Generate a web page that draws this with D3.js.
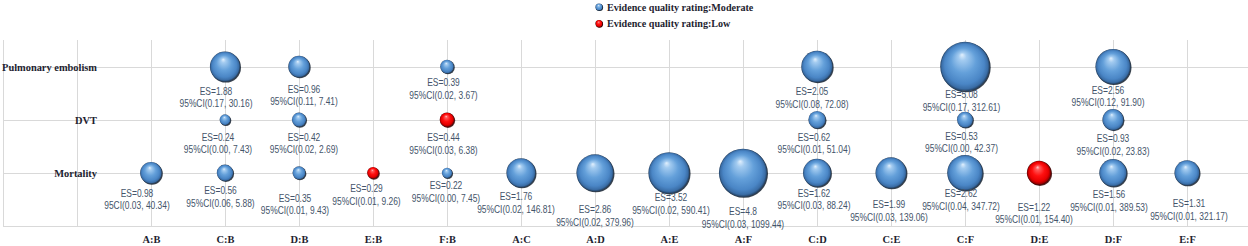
<!DOCTYPE html>
<html>
<head>
<meta charset="utf-8">
<script src="https://cdn.jsdelivr.net/npm/d3@7"></script>
<style>
  body { margin: 0; background: #fff; }
  svg { display: block; }
</style>
</head>
<body>
<div id="chart"></div>
<script>
// comparisons along the x axis, outcomes up the y axis (bottom -> top)
const categories = ["A:B", "C:B", "D:B", "E:B", "F:B", "A:C", "A:D", "A:E", "A:F", "C:D", "C:E", "C:F", "D:E", "D:F", "E:F"];
const outcomes = ["Mortality", "DVT", "Pulmonary embolism"];

// Pulmonary embolism
const peComparisons = ["C:B", "D:B", "F:B", "C:D", "C:F", "D:F"];
const peES   = [1.88, 0.96, 0.39, 2.05, 5.08, 2.56];
const peLow  = [0.17, 0.11, 0.02, 0.08, 0.17, 0.12];
const peHigh = [30.16, 7.41, 3.67, 72.08, 312.61, 91.90];
const peRating = ["Moderate", "Moderate", "Moderate", "Moderate", "Moderate", "Moderate"];

// DVT
const dvtComparisons = ["C:B", "D:B", "F:B", "C:D", "C:F", "D:F"];
const dvtES   = [0.24, 0.42, 0.44, 0.62, 0.53, 0.93];
const dvtLow  = [0.00, 0.02, 0.03, 0.01, 0.00, 0.02];
const dvtHigh = [7.43, 2.69, 6.38, 51.04, 42.37, 23.83];
const dvtRating = ["Moderate", "Moderate", "Low", "Moderate", "Moderate", "Moderate"];

// Mortality
const morComparisons = ["A:B", "C:B", "D:B", "E:B", "F:B", "A:C", "A:D", "A:E", "A:F", "C:D", "C:E", "C:F", "D:E", "D:F", "E:F"];
const morES   = [0.98, 0.56, 0.35, 0.29, 0.22, 1.76, 2.86, 3.52, 4.8, 1.62, 1.99, 2.62, 1.22, 1.56, 1.31];
const morLow  = [0.03, 0.06, 0.01, 0.01, 0.00, 0.02, 0.02, 0.02, 0.03, 0.03, 0.03, 0.04, 0.01, 0.01, 0.01];
const morHigh = [40.34, 5.88, 9.43, 9.26, 7.45, 146.81, 379.96, 590.41, 1099.44, 88.24, 139.06, 347.72, 154.40, 389.53, 321.17];
const morRating = ["Moderate", "Moderate", "Moderate", "Low", "Moderate", "Moderate", "Moderate", "Moderate", "Moderate", "Moderate", "Moderate", "Moderate", "Low", "Moderate", "Moderate"];

const legendItems = ["Moderate", "Low"];

// hand placed data labels (dx, dy of first line from bubble centre), like the original
const peNudge  = [[-9, 24.7], [5, 22.3], [-3.5, 16], [-5, 25], [-3.5, 28], [-5, 23.3]];
const dvtNudge = [[-7, 17.2], [5, 17.2], [-3.5, 17.8], [-3, 17.2], [-3.5, 16.2], [0, 18.8]];
const morNudge = [[-14, 20.3], [-4.5, 18], [-4, 25.3], [-6.5, 15.7], [-1, 12.7], [-5, 24], [0, 37], [2, 24.5],
                  [0, 38.7], [-3, 20.3], [-2, 32], [-4, 21], [-5, 34.3], [-4, 22], [2, 31]];

function rows(outcome, comps, es, lo, hi, rating, nudge) {
  return comps.map((c, i) => ({
    outcome, comp: c, es: es[i], lo: lo[i], hi: hi[i], rating: rating[i], nudge: nudge[i]
  }));
}
const data = [].concat(
  rows("Pulmonary embolism", peComparisons, peES, peLow, peHigh, peRating, peNudge),
  rows("DVT", dvtComparisons, dvtES, dvtLow, dvtHigh, dvtRating, dvtNudge),
  rows("Mortality", morComparisons, morES, morLow, morHigh, morRating, morNudge)
);

const width = 1248, height = 246;
const svg = d3.select("#chart").append("svg")
  .attr("width", width)
  .attr("height", height);

const step = 74;
const x = d3.scaleLinear().domain([0, 17]).range([3, 3 + step * 17]);
const y = d3.scaleLinear().domain([0, 3.5]).range([226, 40]);
const r = d3.scaleSqrt().domain([0, 5.08]).range([0, 24.8]);
const xPos = c => x(categories.indexOf(c) + 2);
const yPos = o => y(outcomes.indexOf(o) + 1);

// sphere gradients
const defs = svg.append("defs");
function sphere(id, stops) {
  const g = defs.append("radialGradient").attr("id", id)
    .attr("cx", "50%").attr("cy", "50%").attr("r", "50%")
    .attr("fx", "44%").attr("fy", "26%");
  stops.forEach(s => g.append("stop").attr("offset", s[0]).attr("stop-color", s[1]));
}
sphere("ball-Moderate", [["0%", "#e2f0fd"], ["16%", "#a3cbf0"], ["50%", "#64a0da"], ["80%", "#4a86c6"], ["93%", "#3a6da6"], ["100%", "#223d5c"]]);
sphere("ball-Low", [["0%", "#ffd0d0"], ["16%", "#ff5a5a"], ["50%", "#ff1010"], ["80%", "#e60000"], ["93%", "#a00000"], ["100%", "#400000"]]);

// grid
const grid = svg.append("g").attr("stroke", "#d9d9d9").attr("stroke-width", 1);
grid.selectAll("line.v")
  .data(d3.range(0, 17))
  .join("line")
  .attr("class", "v")
  .attr("x1", d => Math.round(x(d)) + 0.5).attr("x2", d => Math.round(x(d)) + 0.5)
  .attr("y1", y(3.5)).attr("y2", y(0));
grid.selectAll("line.h")
  .data(d3.range(0, 4))
  .join("line")
  .attr("class", "h")
  .attr("x1", x(0)).attr("x2", width)
  .attr("y1", d => Math.round(y(d)) + 0.5).attr("y2", d => Math.round(y(d)) + 0.5);

// y axis labels
const yAxis = d3.axisLeft(y)
  .tickValues([1, 2, 3])
  .tickFormat(d => outcomes[d - 1])
  .tickSize(0).tickPadding(0);
svg.append("g")
  .attr("transform", "translate(97,0.5)")
  .call(yAxis)
  .call(g => g.select(".domain").remove())
  .selectAll("text")
  .attr("font-family", "'Liberation Serif', 'Times New Roman', serif")
  .attr("font-weight", "bold")
  .attr("font-size", 10.4)
  .attr("fill", "#1e1e30");

// x axis labels
const xAxis = d3.axisBottom(x)
  .tickValues(d3.range(2, 17))
  .tickFormat(d => categories[d - 2])
  .tickSize(0).tickPadding(0);
svg.append("g")
  .attr("transform", "translate(0,236)")
  .call(xAxis)
  .call(g => g.select(".domain").remove())
  .selectAll("text")
  .attr("font-family", "'Liberation Serif', 'Times New Roman', serif")
  .attr("font-weight", "bold")
  .attr("font-size", 10.4)
  .attr("fill", "#1e1e30");

// bubbles, with a thin dark shadow on the lower right
const balls = svg.append("g").selectAll("g")
  .data(data)
  .join("g")
  .attr("transform", d => `translate(${xPos(d.comp)},${yPos(d.outcome)})`);
balls.append("circle")
  .attr("cx", 0.9).attr("cy", 0.9)
  .attr("r", d => r(d.es))
  .attr("fill", d => d.rating === "Low" ? "#3a0000" : "#14202e")
  .attr("opacity", 0.85);
balls.append("circle")
  .attr("r", d => r(d.es))
  .attr("fill", d => `url(#ball-${d.rating})`);

// data labels (narrowed to mimic Calibri)
const fmt = v => v.toFixed(2);
const labels = svg.append("g")
  .attr("font-family", "'Liberation Sans', Arial, sans-serif")
  .attr("font-size", 10.4)
  .attr("fill", "#44546a")
  .attr("text-anchor", "middle");
const lab = labels.selectAll("g")
  .data(data)
  .join("g")
  .attr("transform", d => `translate(${xPos(d.comp) + d.nudge[0]},${yPos(d.outcome) + d.nudge[1]}) scale(0.81,1)`);
lab.append("text")
  .attr("dy", "0.35em")
  .text(d => "ES=" + d.es);
lab.append("text")
  .attr("y", 12.6)
  .attr("dy", "0.35em")
  .text(d => (d.outcome === "Mortality" && d.comp === "A:B" ? "95CI" : "95%CI") + `(${fmt(d.lo)}, ${fmt(d.hi)})`);

// legend
const legend = svg.append("g").attr("transform", "translate(599,7)");
const li = legend.selectAll("g")
  .data(legendItems)
  .join("g")
  .attr("transform", (d, i) => `translate(0,${i * 16.6})`);
li.append("circle")
  .attr("cx", 0.5).attr("cy", 0.5)
  .attr("r", 3.6)
  .attr("fill", d => d === "Low" ? "#3a0000" : "#14202e");
li.append("circle")
  .attr("r", 3.6)
  .attr("fill", d => `url(#ball-${d})`);
li.append("text")
  .attr("x", 8)
  .attr("dy", "0.35em")
  .attr("font-family", "'Liberation Serif', 'Times New Roman', serif")
  .attr("font-weight", "bold")
  .attr("font-size", 10.1)
  .attr("fill", "#1e1e30")
  .text(d => "Evidence quality rating:" + d);
</script>
</body>
</html>
